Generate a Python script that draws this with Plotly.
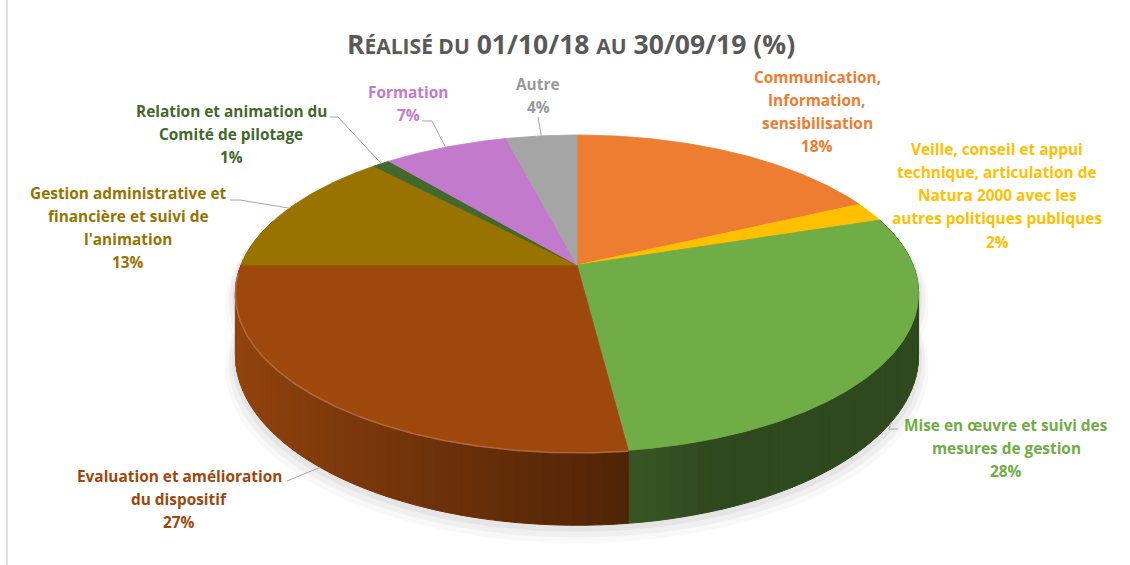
import numpy as np
import plotly.graph_objects as go

# ---------------- data ----------------
categories = [
    "Communication, Information, sensibilisation",
    "Veille, conseil et appui technique, articulation de Natura 2000 avec les autres politiques publiques",
    "Mise en œuvre et suivi des mesures de gestion",
    "Evaluation et amélioration du dispositif",
    "Gestion administrative et financière et suivi de l'animation",
    "Relation et animation du Comité de pilotage",
    "Formation",
    "Autre",
]
values = [18, 2, 28, 27, 13, 1, 7, 4]
label_lines = [
    ["Communication,", "Information,", "sensibilisation"],
    ["Veille, conseil et appui", "technique, articulation de", "Natura 2000 avec les", "autres politiques publiques"],
    ["Mise en œuvre et suivi des", "mesures de gestion"],
    ["Evaluation et amélioration", "du dispositif"],
    ["Gestion administrative et", "financière et suivi de", "l'animation"],
    ["Relation et animation du", "Comité de pilotage"],
    ["Formation"],
    ["Autre"],
]
title_parts = ["R", "ÉALISÉ DU", " 01/10/18 ", "AU", " 30/09/19 (%)"]

# ---------------- styles / layout ----------------
colors = ["#ED7D31", "#FFC000", "#70AD47", "#9E480E", "#997300", "#43682B", "#C47ACC", "#A5A5A5"]
text_colors = ["#ED7D31", "#FFC000", "#70AD47", "#9E480E", "#997300", "#43682B", "#C47ACC", "#999999"]
label_pos = [(817, 77), (997, 149), (1006, 425), (179, 476), (128, 193), (231, 111), (408, 92), (538, 84)]
line_gap = 23.3
leader_starts = [None, None, [(898, 429), (889, 429)], [(287, 481)], [(230, 200), (240, 200)],
                 [(330, 117), (338, 117)], [(422, 121), (432, 121)], [(538, 117)]]
FONT = "Open Sans"
LABEL_SIZE = 15.4
W, H = 1130, 565

# projection parameters (pixels)
CX, CY = 577, 265
B, A, P, T = 336, 153.4, 0.18, 60


def proj(theta, top=True):
    u = np.sin(theta)
    d = -np.cos(theta)
    w = 1 - P * d
    x = CX + B * u / w
    y = CY + (A * d + (0 if top else T)) / w
    return x, y


def hex2rgb(h):
    h = h.lstrip("#")
    return [int(h[i:i + 2], 16) for i in (0, 2, 4)]


def shade(h, f):
    r, g, b = hex2rgb(h)
    return "rgb(%d,%d,%d)" % tuple(max(0, min(255, int(round(c * f)))) for c in (r, g, b))


def lighten(h, a):
    r, g, b = hex2rgb(h)
    return "rgb(%d,%d,%d)" % tuple(int(round(c + (255 - c) * a)) for c in (r, g, b))


fig = go.Figure()
total = sum(values)
fracs = np.array(values) / total
cum = np.concatenate([[0], np.cumsum(fracs)])

# ---- soft shadow ----
th_all = np.linspace(0, 2 * np.pi, 361)
for s, dy, alpha in [(1.03, 10, 0.025), (1.02, 7, 0.035), (1.01, 4, 0.045)]:
    xb, yb = proj(th_all, top=False)
    xt, yt = proj(th_all, top=True)
    for xs, ys in [(xb, yb), (xt, yt)]:
        fig.add_trace(go.Scatter(x=CX + (xs - CX) * s, y=CY + (ys - CY) * s + dy, mode="lines",
                                 fill="toself", fillcolor="rgba(0,0,0,%.3f)" % alpha,
                                 line=dict(width=0), hoverinfo="skip", showlegend=False))

# ---- walls ----
quads = []
for i in range(len(values)):
    a0, a1 = cum[i] * 2 * np.pi, cum[i + 1] * 2 * np.pi
    n = max(1, int(np.ceil((a1 - a0) / np.radians(2))))
    ts = np.linspace(a0, a1, n + 1)
    for k in range(n):
        t0, t1 = ts[k], ts[k + 1]
        tm = 0.5 * (t0 + t1)
        dm = -np.cos(tm)
        if dm < -0.3:
            continue
        um = np.sin(tm)
        f = float(np.clip(0.55 - 0.4 * um, 0.42, 0.92))
        x0t, y0t = proj(t0); x1t, y1t = proj(t1)
        x0b, y0b = proj(t0, False); x1b, y1b = proj(t1, False)
        quads.append((dm, [x0t, x1t, x1b, x0b, x0t], [y0t, y1t, y1b, y0b, y0t], shade(colors[i], f)))
quads.sort(key=lambda q: q[0])
for dm, xs, ys, c in quads:
    fig.add_trace(go.Scatter(x=xs, y=ys, mode="lines", fill="toself", fillcolor=c,
                             line=dict(color=c, width=1), hoverinfo="skip", showlegend=False))

# ---- top faces ----
for i in range(len(values)):
    a0, a1 = cum[i] * 2 * np.pi, cum[i + 1] * 2 * np.pi
    ts = np.linspace(a0, a1, max(3, int(np.degrees(a1 - a0) * 2)))
    xs, ys = proj(ts)
    xs = np.concatenate([[CX], xs, [CX]])
    ys = np.concatenate([[CY], ys, [CY]])
    fig.add_trace(go.Scatter(x=xs, y=ys, mode="lines", fill="toself", fillcolor=colors[i],
                             line=dict(color=colors[i], width=0.8), hoverinfo="skip",
                             showlegend=False, name=categories[i]))

# ---- rim highlight on front-left edge ----
for i in range(len(values)):
    a0, a1 = cum[i] * 2 * np.pi, cum[i + 1] * 2 * np.pi
    ts = np.linspace(a0, a1, 200)
    m = (-np.cos(ts) > 0.05) & (np.sin(ts) < 0.13)
    if m.sum() > 2:
        xs, ys = proj(ts[m])
        fig.add_trace(go.Scatter(x=xs, y=ys + 0.8, mode="lines", line=dict(color=lighten(colors[i], 0.18), width=1.6),
                                 hoverinfo="skip", showlegend=False))

# ---- leader lines ----
for i in range(len(values)):
    if leader_starts[i] is None:
        continue
    tm = (cum[i] + cum[i + 1]) * np.pi
    front = -np.cos(tm) > 0
    ax, ay = proj(tm, top=not front)
    pts = leader_starts[i] + [(float(ax), float(ay))]
    fig.add_trace(go.Scatter(x=[p[0] for p in pts], y=[p[1] for p in pts], mode="lines",
                             line=dict(color="#A6A6A6", width=1), hoverinfo="skip", showlegend=False))

# ---- labels ----
annotations = []
for i in range(len(values)):
    lx, ly = label_pos[i]
    lines = label_lines[i] + ["%d%%" % round(values[i] / total * 100)]
    for j, t in enumerate(lines):
        annotations.append(dict(x=lx, y=ly + j * line_gap, xref="x", yref="y", text="<b>%s</b>" % t,
                                showarrow=False, xanchor="center", yanchor="middle",
                                font=dict(family=FONT, size=LABEL_SIZE, color=text_colors[i])))

sc = "<span style='font-size:21px'>%s</span>"
title_html = "<b>" + title_parts[0] + sc % title_parts[1] + title_parts[2] + sc % title_parts[3] + title_parts[4] + "</b>"
annotations.append(dict(x=571, y=44, xref="x", yref="y", text=title_html, showarrow=False,
                        xanchor="center", yanchor="middle",
                        font=dict(family=FONT, size=26.5, color="#595959")))

fig.update_layout(
    width=W, height=H, margin=dict(l=0, r=0, t=0, b=0),
    paper_bgcolor="white", plot_bgcolor="white",
    xaxis=dict(range=[0, W], visible=False, fixedrange=True),
    yaxis=dict(range=[H, 0], visible=False, fixedrange=True),
    annotations=annotations, showlegend=False,
    shapes=[dict(type="line", xref="x", yref="y", x0=7, x1=7, y0=0, y1=H,
                 line=dict(color="#D9D9D9", width=1.5))],
)

fig.write_html("out.html", config={"displayModeBar": False},
               post_script="document.body.style.margin='0';document.body.style.overflow='hidden';")
